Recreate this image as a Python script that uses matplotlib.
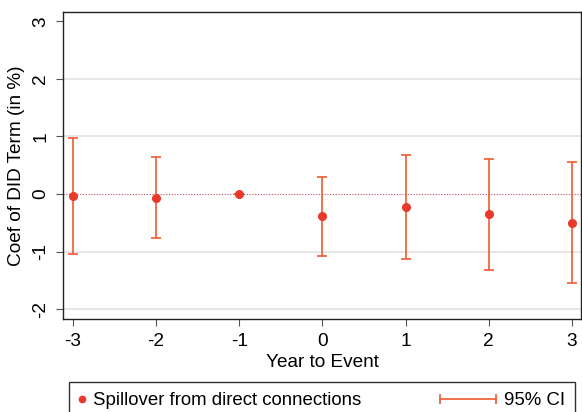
import matplotlib
matplotlib.use('Agg')
from matplotlib import pyplot as plt
from matplotlib.lines import Line2D
from matplotlib.legend_handler import HandlerBase, HandlerLine2D


years = [-3, -2, -1, 0, 1, 2, 3]
coefs = [-0.04, -0.07, 0.0, -0.38, -0.22, -0.35, -0.50]
ci_low = [-1.05, -0.77, 0.0, -1.07, -1.12, -1.32, -1.54]
ci_high = [0.98, 0.64, 0.0, 0.29, 0.67, 0.61, 0.55]
x_ticks = [-3, -2, -1, 0, 1, 2, 3]
y_ticks = [-2, -1, 0, 1, 2, 3]
grid_levels = [-2, -1, 1, 2]

point_color = '#e8392b'
ci_color = '#f05a30'
fs = 13.7

plt.rcParams['font.family'] = ['Liberation Sans', 'DejaVu Sans']


class CIHandler(HandlerBase):
    """Horizontal capped line, drawn to the left of the handle box."""
    def create_artists(self, legend, orig_handle, xdescent, ydescent,
                       width, height, fontsize, trans):
        y = height / 2 - ydescent
        x1 = -xdescent + width
        x0 = x1 - 3.0 * fontsize
        line = Line2D([x0, x1], [y, y], color=ci_color, lw=1.2, transform=trans)
        caps = Line2D([x0, x1], [y, y], ls='', marker='|', ms=7, mew=1.2,
                      color=ci_color, transform=trans)
        return [line, caps]


def main():
    fig = plt.figure(figsize=(5.82, 4.12), dpi=100)
    ax = fig.add_axes([63 / 582, 93 / 412, 518 / 582, 307 / 412])

    for lvl in grid_levels:
        ax.axhline(lvl, color='#e3e3e3', lw=1.2, zorder=0)
    ax.axhline(0, color='#c8505a', lw=0.8, ls=(0, (1, 1.5)), zorder=1)

    lower = [c - lo for c, lo in zip(coefs, ci_low)]
    upper = [hi - c for c, hi in zip(coefs, ci_high)]
    ax.errorbar(years, coefs, yerr=[lower, upper], fmt='none',
                ecolor=ci_color, elinewidth=1.2, capsize=3.5, capthick=1.2,
                zorder=2)
    ax.plot(years, coefs, 'o', color=point_color, ms=5.5, zorder=3)

    ax.set_xlim(-3.12, 3.11)
    ax.set_ylim(-2.17, 3.16)
    ax.set_xticks(x_ticks)
    ax.set_xticklabels([str(v) for v in x_ticks])
    ax.set_yticks(y_ticks)
    ax.set_yticklabels([str(v) for v in y_ticks], rotation=90, va='center')
    ax.tick_params(axis='both', labelsize=fs, length=5, width=0.8,
                   color='#555555', pad=5)

    for side in ['left', 'right', 'top', 'bottom']:
        ax.spines[side].set_color('#222222')
        ax.spines[side].set_linewidth(1)

    ax.set_xlabel('Year to Event', fontsize=fs, labelpad=3)
    ax.set_ylabel('Coef of DID Term (in %)', fontsize=fs, labelpad=5)

    dot = Line2D([], [], ls='', marker='o', ms=4.5, color=point_color)
    ci = Line2D([], [], color=ci_color)
    fig.legend([dot, ci], ['Spillover from direct connections', '95% CI'],
               handler_map={dot: HandlerLine2D(numpoints=1), ci: CIHandler()},
               loc='upper left', bbox_to_anchor=(69 / 582, 0, 506 / 582, 30 / 412),
               mode='expand', ncol=2, fontsize=13.4, handlelength=0.35,
               handletextpad=0.4, borderpad=0.55, borderaxespad=0,
               fancybox=False, framealpha=1, edgecolor='#333333')

    fig.savefig('out.png', dpi=100)


main()
